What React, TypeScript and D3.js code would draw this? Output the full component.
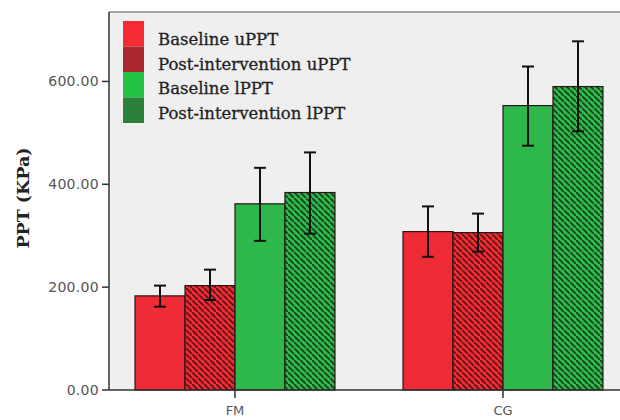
import React from "react";
import * as d3 from "d3";

const groups = ["FM", "CG"];
const seriesNames = ["Baseline uPPT", "Post-intervention uPPT", "Baseline lPPT", "Post-intervention lPPT"];
const meanFM = [183, 203, 362, 384];
const meanCG = [308, 306, 553, 590];
const upperFM = [203, 234, 432, 462];
const upperCG = [357, 343, 629, 678];
const lowerFM = [162, 175, 290, 304];
const lowerCG = [259, 269, 475, 503];
const yTicks = [0, 200, 400, 600];

const barFill = ["#ef2b36", "#ef2b36", "#2eb84b", "#2eb84b"];
const hatchColor = [null, "#5e1212", null, "#16401c"];
const legendFill = ["#f42a34", "#ac2830", "#22c244", "#2b7f39"];

const width = 620;
const height = 420;
const left = 109;
const top = 12;
const bottom = 390;

const App = () => {
  const y = d3.scaleLinear().domain([0, 735]).range([bottom, top]);
  const x = d3.scaleBand().domain(groups).range([101, 637]).paddingInner(0.254).paddingOuter(0.127);
  const xs = d3.scaleBand().domain(seriesNames).range([0, x.bandwidth()]);

  const rows = [
    { g: "FM", mean: meanFM, hi: upperFM, lo: lowerFM },
    { g: "CG", mean: meanCG, hi: upperCG, lo: lowerCG },
  ];

  return (
    <svg width={width} height={height} style={{ position: "absolute", left: 0, top: 0, background: "#fff" }}>
      <defs>
        {[1, 3].map((i) => (
          <pattern key={i} id={"hatch" + i} patternUnits="userSpaceOnUse" width={6} height={6}>
            <rect width={6} height={6} fill={barFill[i]} />
            <path d="M-1,-1 L1,1 M0,0 L6,6 M5,5 L7,7" stroke={hatchColor[i]!} strokeWidth={1.7} />
          </pattern>
        ))}
      </defs>
      <rect x={left} y={top} width={width - left} height={bottom - top} fill="#efefef" />
      <line x1={left} x2={width} y1={top} y2={top} stroke="#8a8a8a" strokeWidth={1.5} />

      {rows.map((r) =>
        seriesNames.map((s, i) => {
          const bx = x(r.g)! + xs(s)!;
          return (
            <rect
              key={r.g + s}
              x={bx}
              y={y(r.mean[i])}
              width={xs.bandwidth()}
              height={bottom - y(r.mean[i])}
              fill={hatchColor[i] ? `url(#hatch${i})` : barFill[i]}
              stroke="#2a1414"
              strokeWidth={1.2}
            />
          );
        })
      )}
      {rows.map((r) =>
        seriesNames.map((s, i) => {
          const cx = x(r.g)! + xs(s)! + xs.bandwidth() / 2;
          return (
            <g key={"e" + r.g + s} stroke="#111" strokeWidth={2}>
              <line x1={cx} x2={cx} y1={y(r.hi[i])} y2={y(r.lo[i])} />
              <line x1={cx - 6} x2={cx + 6} y1={y(r.hi[i])} y2={y(r.hi[i])} />
              <line x1={cx - 6} x2={cx + 6} y1={y(r.lo[i])} y2={y(r.lo[i])} />
            </g>
          );
        })
      )}

      {/* axes */}
      <line x1={left} x2={left} y1={top} y2={bottom} stroke="#333" strokeWidth={1.5} />
      <line x1={left} x2={width} y1={bottom} y2={bottom} stroke="#333" strokeWidth={1.5} />
      {yTicks.map((t) => (
        <g key={t}>
          <line x1={left - 7} x2={left} y1={y(t)} y2={y(t)} stroke="#333" strokeWidth={1.5} />
          <text
            x={left - 10}
            y={y(t)}
            dy="0.35em"
            textAnchor="end"
            fontFamily="DejaVu Sans"
            fontSize={14}
            letterSpacing={0.3}
            fill="#555"
          >
            {d3.format(".2f")(t)}
          </text>
        </g>
      ))}
      {groups.map((g) => {
        const cx = x(g)! + x.bandwidth() / 2;
        return (
          <g key={g}>
            <line x1={cx} x2={cx} y1={bottom} y2={bottom + 8} stroke="#333" strokeWidth={1.5} />
            <text x={cx} y={415} textAnchor="middle" fontFamily="DejaVu Sans" fontSize={13} fill="#555">
              {g}
            </text>
          </g>
        );
      })}
      <text
        transform="translate(29,198) rotate(-90)"
        textAnchor="middle"
        fontFamily="DejaVu Serif"
        fontWeight="bold"
        fontSize={17.5}
        fill="#222"
      >
        PPT (KPa)
      </text>

      {/* legend */}
      {seriesNames.map((s, i) => (
        <g key={s}>
          <rect x={123} y={21 + i * 25.5} width={21} height={25.5} fill={legendFill[i]} />
          <text
            x={158}
            y={45 + i * 24.7}
            fontFamily="DejaVu Serif"
            fontSize={16.5}
            fill="#222"
            stroke="#222"
            strokeWidth={0.3}
          >
            {s}
          </text>
        </g>
      ))}
    </svg>
  );
};

export default App;
